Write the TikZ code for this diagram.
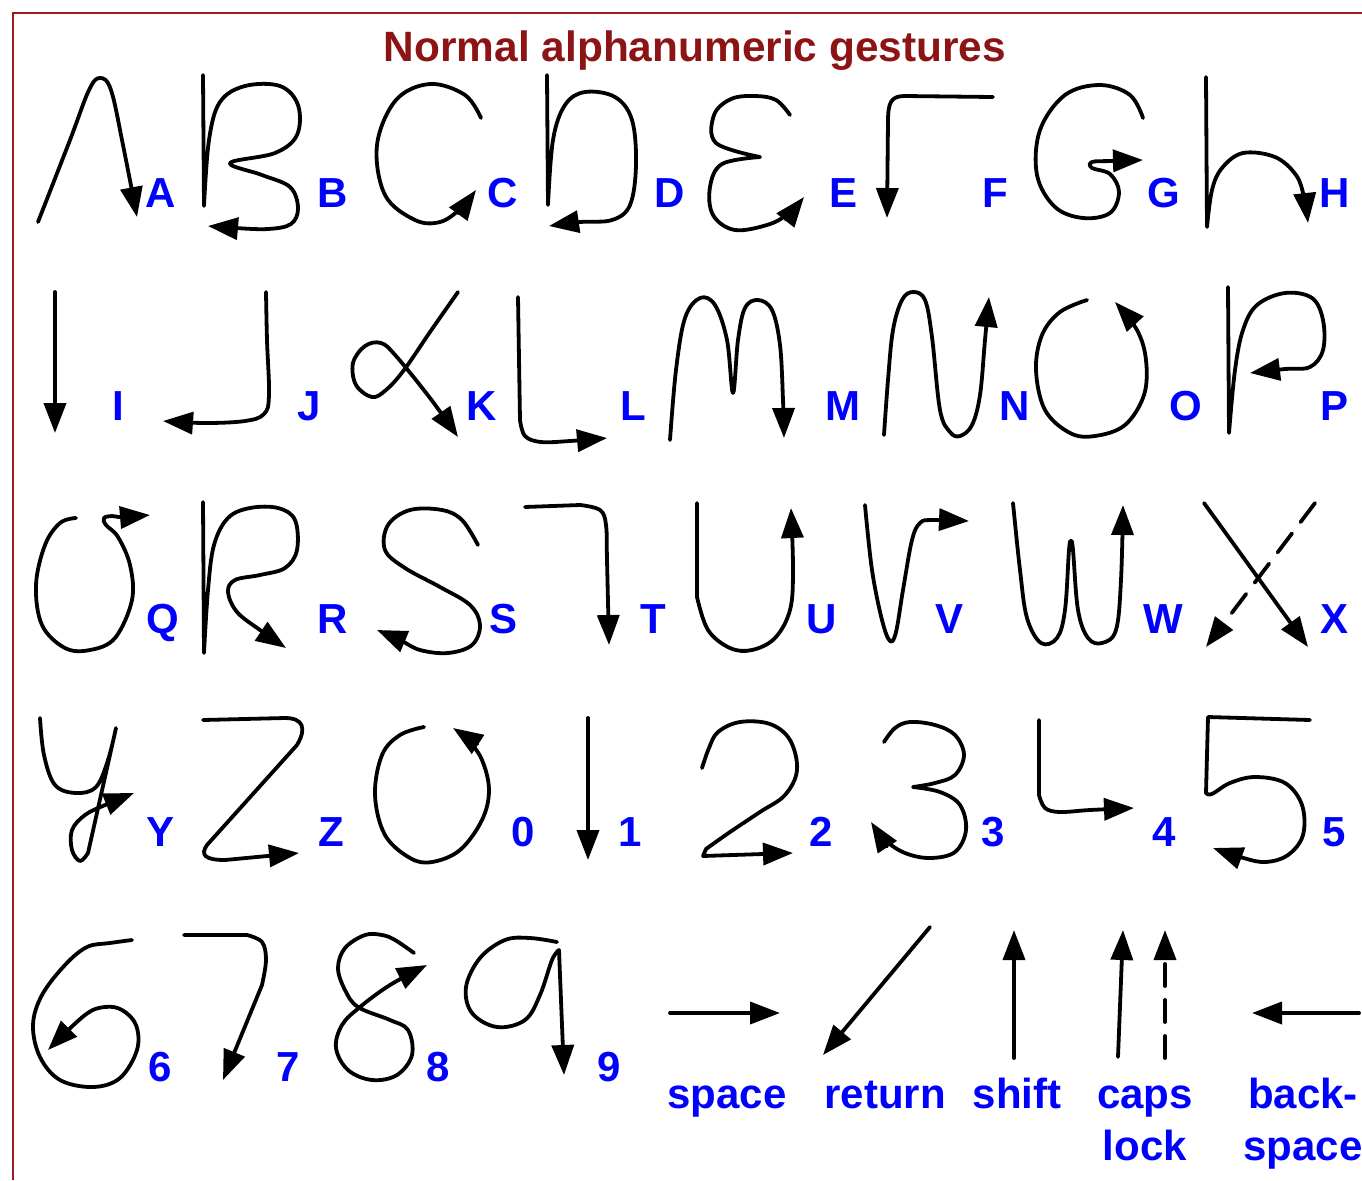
\documentclass[tikz,border=0pt]{standalone}
\usepackage{fontspec}
\setmainfont{Liberation Sans}
\usetikzlibrary{arrows.meta}
\definecolor{labblue}{RGB}{0,0,255}
\definecolor{titred}{RGB}{140,20,20}
\definecolor{framered}{RGB}{150,30,30}
\begin{document}
\begin{tikzpicture}[x=0.5pt,y=-0.5pt,
  g/.style={line width=1.9pt,line cap=round,line join=round},
  ga/.style={g,-{Triangle[length=15pt,width=11pt]}},
  lab/.style={text=labblue,font=\fontsize{21}{25}\selectfont\bfseries,inner sep=0pt,anchor=base},
  ttl/.style={text=titred,font=\fontsize{21.2}{25}\selectfont\bfseries,inner sep=0pt,anchor=base},
  sm/.style={smooth,tension=0.6}]
\useasboundingbox (0,0) rectangle (1362,1180);
\draw[framered,line width=1pt] (1362,13) -- (13,13) -- (13,1180);
\node[ttl] (title) at (695,61) {Normal alphanumeric gestures};
% ---- Row 1
\draw[ga] plot[sm] coordinates {(38,222) (70,140) (89,90) (100,78) (111,90) (123,145) (137,217)};
\node[lab] (lA) at (161,207) {A};
\draw[ga] (203,75) -- plot[sm] coordinates {(204,206) (209,140) (220,102) (245,86) (280,86) (298,105) (297,135) (275,153) (230,163) (262,175) (290,187) (298,208) (291,224) (268,229) (235,228) (208,226)};
\node[lab] (lB) at (333,207) {B};
\draw[ga] plot[sm] coordinates {(481,118) (465,95) (430,84) (396,100) (377,145) (385,195) (415,220) (440,222) (460,209) (476,190)};
\node[lab] (lC) at (503,207) {C};
\draw[ga] (547,75) -- plot[sm] coordinates {(548,205) (553,140) (565,105) (585,92) (615,97) (632,120) (636,165) (630,205) (612,220) (580,222) (549,226)};
\node[lab] (lD) at (670,207) {D};
\draw[ga] plot[sm] coordinates {(790,115) (776,100) (755,96) (731,99) (714,115) (716,143) (760,157)} -- plot[sm] coordinates {(760,157) (722,164) (710,187) (713,215) (735,230) (770,224) (790,212) (804,197)};
\node[lab] (lE) at (844,207) {E};
\draw[ga] (993,97) -- (905,96) .. controls (891,96) and (888,102) .. (888,122) -- (887,218);
\node[lab] (lF) at (995,207) {F};
\draw[ga] plot[sm] coordinates {(1143,118) (1130,95) (1100,85) (1065,95) (1040,130) (1037,175) (1055,207) (1083,218) (1110,213) (1119,192) (1110,174) (1092,168) (1092,162) (1110,161) (1143,160)};
\node[lab] (lG) at (1164,207) {G};
\draw[ga] (1206,77) -- plot[sm] coordinates {(1207,227) (1212,190) (1222,168) (1243,153) (1275,157) (1296,175) (1304,197) (1308,223)};
\node[lab] (lH) at (1335,207) {H};
% ---- Row 2
\draw[ga] (55,292) -- (55,433);
\node[lab] (lI) at (118,420) {I};
\draw[ga] plot[sm] coordinates {(266,292) (267,340) (269,395) (264,414) (245,421) (205,423) (163,421)};
\node[lab] (lJ) at (309,420) {J};
\draw[ga] plot[sm] coordinates {(458,292) (430,332) (404,370) (386,390) (372,397) (356,385) (353,363) (365,346) (381,343) (396,356) (430,398) (458,437)};
\node[lab] (lK) at (482,420) {K};
\draw[ga] (518,297) -- plot[sm] coordinates {(520,420) (525,436) (541,442) (570,441) (607,438)};
\node[lab] (lL) at (633,420) {L};
\draw[ga] plot[sm] coordinates {(670,440) (676,370) (685,318) (700,298) (715,305) (727,340) (733,393) (738,340) (745,308) (758,300) (772,310) (780,345) (783,400) (784,438)};
\node[lab] (lM) at (843,420) {M};
\draw[ga] plot[sm] coordinates {(884,435) (888,380) (893,330) (902,300) (913,292) (925,300) (932,337) (940,410) (950,432) (960,436) (972,425) (980,395) (985,340) (989,297)};
\node[lab] (lN) at (1015,420) {N};
\draw[ga] plot[sm] coordinates {(1087,300) (1060,312) (1042,335) (1036,370) (1045,410) (1070,433) (1095,436) (1125,425) (1144,395) (1146,360) (1137,330) (1115,302)};
\node[lab] (lO) at (1186,420) {O};
\draw[ga] (1228,287) -- plot[sm] coordinates {(1229,433) (1235,370) (1243,330) (1257,305) (1285,293) (1312,298) (1323,320) (1323,350) (1310,367) (1285,369) (1250,373)};
\node[lab] (lP) at (1334,420) {P};
% ---- Row 3
\draw[ga] plot[sm] coordinates {(76,518) (60,523) (45,545) (36,585) (42,625) (65,648) (90,650) (115,638) (132,600) (130,565) (118,537) (106,525) (104,518) (112,516) (122,517) (150,515)};
\node[lab] (lQ) at (163,633) {Q};
\draw[ga] (203,502) -- plot[sm] coordinates {(204,653) (208,590) (214,545) (228,518) (250,508) (278,508) (295,520) (297,550) (285,568) (260,575) (235,580) (228,592) (237,612) (260,630) (286,648)};
\node[lab] (lR) at (333,633) {R};
\draw[ga] plot[sm] coordinates {(478,545) (462,520) (442,510) (410,510) (388,525) (385,550) (405,568) (440,587) (470,605) (480,625) (472,645) (448,653) (420,650) (400,640) (377,630)};
\node[lab] (lS) at (504,633) {S};
\draw[ga] (525,507) -- plot[sm] coordinates {(580,505) (600,510) (606,525) (607,560) (609,645)};
\node[lab] (lT) at (653,633) {T};
\draw[ga] (697,503) -- plot[sm] coordinates {(697,597) (708,630) (730,648) (752,650) (775,638) (790,610) (793,570) (791,508)};
\node[lab] (lU) at (822,633) {U};
\draw[ga] plot[sm] coordinates {(865,505) (872,570) (882,620) (890,641) (896,632) (903,590) (912,540) (920,523) (932,520) (969,521)};
\node[lab] (lV) at (950,633) {V};
\draw[ga] plot[sm] coordinates {(1013,503) (1020,570) (1027,618) (1041,643) (1057,638) (1065,610) (1069,550) (1071,541) (1073,550) (1078,610) (1088,638) (1102,643) (1116,630) (1121,580) (1123,505)};
\node[lab] (lW) at (1163,633) {W};
\draw[ga] (1204,503) -- (1308,647);
\draw[ga,dashed,dash pattern=on 12pt off 7pt] (1315,503) -- (1206,647);
\node[lab] (lX) at (1334,633) {X};
% ---- Row 4
\draw[ga] plot[sm] coordinates {(40,718) (44,755) (55,785) (76,793) (96,787) (108,760) (116,728)} -- (88,853) -- plot[sm] coordinates {(88,853) (80,861) (72,850) (72,830) (85,815) (105,805) (134,793)};
\node[lab] (lY) at (161,846) {Y};
\draw[ga] (203,720) -- (285,718) .. controls (303,718) and (307,728) .. (297,745) -- (207,845) .. controls (200,855) and (205,860) .. (225,860) -- (299,853);
\node[lab] (lZ) at (331,846) {Z};
\draw[ga] plot[sm] coordinates {(424,727) (400,735) (382,755) (375,795) (385,835) (410,858) (432,862) (460,850) (482,820) (489,790) (482,760) (468,740) (453,728)};
\node[lab] (l0) at (523,846) {0};
\draw[ga] (588,718) -- (588,860);
\node[lab] (l1) at (630,846) {1};
\draw[ga] plot[sm] coordinates {(702,768) (709,748) (718,732) (740,722) (770,724) (790,740) (797,770) (785,795) (760,812) (730,832) (706,849)} -- (703,856) -- (793,853);
\node[lab] (l2) at (821,846) {2};
\draw[ga] plot[sm] coordinates {(884,742) (895,728) (910,722) (935,725) (955,735) (964,755) (955,775) (935,783) (913,787)} -- plot[sm] coordinates {(913,787) (940,792) (960,805) (966,830) (955,852) (930,858) (905,853) (885,840) (871,822)};
\node[lab] (l3) at (993,846) {3};
\draw[ga] (1039,720) -- plot[sm] coordinates {(1039,795) (1045,808) (1060,812) (1090,810) (1134,808)};
\node[lab] (l4) at (1164,846) {4};
\draw[ga] (1310,720) -- (1208,717) -- (1206,793) -- plot[sm] coordinates {(1206,793) (1212,794) (1230,783) (1255,777) (1285,783) (1302,805) (1303,835) (1288,855) (1265,862) (1240,857) (1213,848)};
\node[lab] (l5) at (1334,846) {5};
% ---- Row 5
\draw[ga] plot[sm] coordinates {(132,940) (110,943) (87,947) (65,965) (42,995) (33,1025) (40,1057) (60,1080) (93,1087) (120,1078) (137,1050) (136,1025) (122,1010) (105,1007) (85,1015) (48,1050)};
\node[lab] (l6) at (160,1081) {6};
\draw[ga] (184,935) -- plot[sm] coordinates {(247,935) (262,942) (266,960) (262,985)} -- (223,1080);
\node[lab] (l7) at (288,1081) {7};
\draw[ga] plot[sm] coordinates {(414,953) (395,940) (382,935) (365,935) (345,948) (338,968) (345,990) (358,1007) (390,1020) (408,1030) (412,1055) (397,1075) (372,1080) (348,1070) (336,1048) (342,1025) (360,1007) (390,985) (427,965)};
\node[lab] (l8) at (438,1081) {8};
\draw[ga] plot[sm] coordinates {(557,942) (530,938) (505,940) (480,958) (466,987) (472,1013) (497,1027) (525,1020) (540,995) (552,960) (559,950)} -- (564,1075);
\node[lab] (l9) at (609,1081) {9};
% ---- special gestures
\draw[ga] (670,1013) -- (780,1013);
\node[lab] (lspace) at (727,1108) {space};
\draw[ga] (930,927) -- (823,1055);
\node[lab] (lreturn) at (885,1108) {return};
\draw[ga] (1014,1058) -- (1014,930);
\node[lab] (lshift) at (1017,1108) {shift};
\draw[ga] (1118,1057) -- (1123,930);
\draw[ga,dashed,dash pattern=on 11pt off 7pt] (1165,1058) -- (1165,930);
\node[lab] (lcaps) at (1145,1108) {caps};
\node[lab] (llock) at (1145,1160) {lock};
\draw[ga] (1359,1013) -- (1252,1013);
\node[lab] (lback) at (1303,1108) {back-};
\node[lab] (lbspace) at (1303,1160) {space};
\end{tikzpicture}
\end{document}
